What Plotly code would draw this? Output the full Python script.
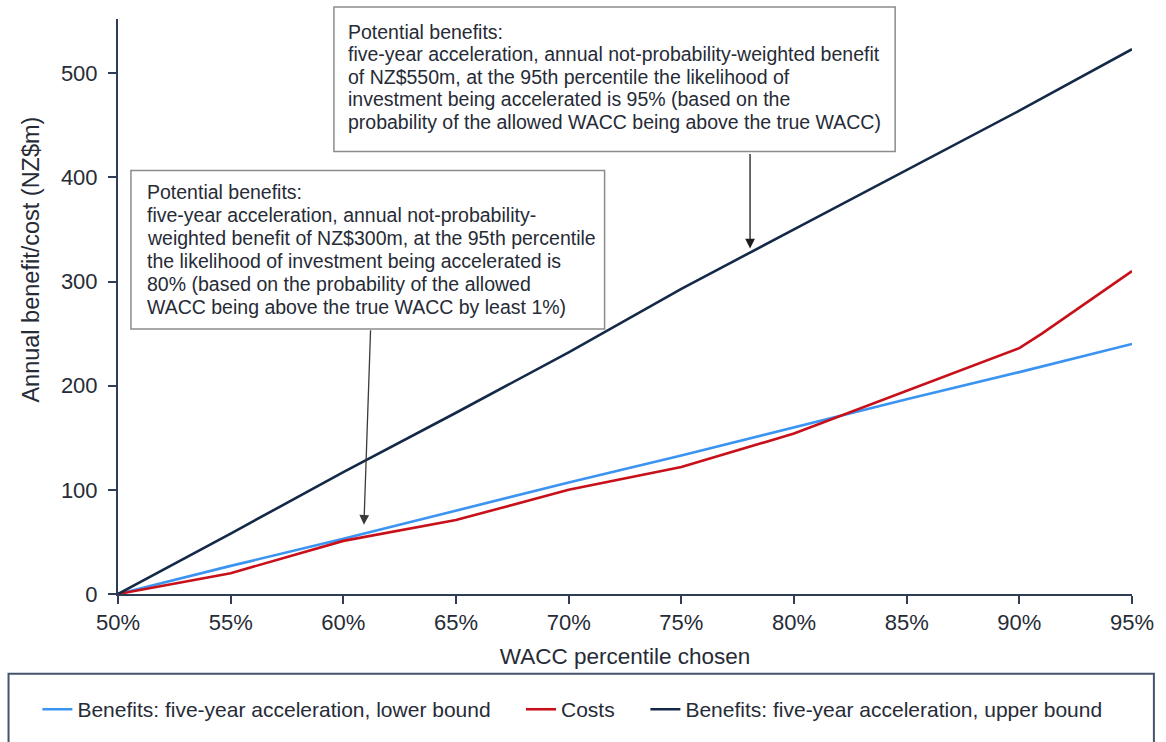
import numpy as np
import plotly.graph_objects as go

# WACC percentile (x) and annual benefit / cost in NZ$m (y)
pct = [50, 55, 60, 65, 70, 75, 80, 85, 90, 95]
lower_bound = [0, 27, 53, 80, 107, 133, 160, 187, 213, 240]
upper_bound = [0, 58, 117, 174, 232, 293, 350, 407, 464, 523]
cost_pct = [50, 55, 60, 65, 70, 75, 80, 85, 90, 91, 95]
costs = [0, 20, 51, 71, 100, 122, 154, 195, 236, 250, 310]

x_ticks = [50, 55, 60, 65, 70, 75, 80, 85, 90, 95]
y_ticks = [0, 100, 200, 300, 400, 500]

names = [
    "Benefits: five-year acceleration, lower bound",
    "Costs",
    "Benefits: five-year acceleration, upper bound",
]

upper_note = [
    "Potential benefits:",
    "five-year acceleration, annual not-probability-weighted benefit",
    "of NZ$550m, at the 95th percentile the likelihood of",
    "investment being accelerated is 95% (based on the",
    "probability of the allowed WACC being above the true WACC)",
]
lower_note = [
    "Potential benefits:",
    "five-year acceleration, annual not-probability-",
    "weighted benefit of NZ$300m, at the 95th percentile",
    "the likelihood of investment being accelerated is",
    "80% (based on the probability of the allowed",
    "WACC being above the true WACC by least 1%)",
]

FONT = "Liberation Sans, Arial, sans-serif"
TEXT = "#262b36"
AXIS = "#2e3d55"
BLUE = "#3b93f2"
RED = "#c8101a"
NAVY = "#142948"

W, H = 1166, 742
L, R, T, B = 118, 29, 19, 146


def fx(p):
    """Pixel column -> paper x."""
    return (p - L) / (W - L - R)


def fy(p):
    """Pixel row -> paper y."""
    return (H - B - p) / (H - T - B)


fig = go.Figure()
fig.add_trace(go.Scatter(x=pct, y=lower_bound, mode="lines", name=names[0],
                         line=dict(color=BLUE, width=2.6), legend="legend"))
fig.add_trace(go.Scatter(x=cost_pct, y=costs, mode="lines", name=names[1],
                         line=dict(color=RED, width=2.6), legend="legend2"))
fig.add_trace(go.Scatter(x=pct, y=upper_bound, mode="lines", name=names[2],
                         line=dict(color=NAVY, width=2.6), legend="legend3"))

annotations = []

# Note boxes: frame as shapes, text line by line
shapes = [
    dict(type="rect", xref="paper", yref="paper",
         x0=fx(335), x1=fx(899), y0=fy(7), y1=fy(152),
         line=dict(color="#8c8c8c", width=1.5), fillcolor="white", layer="above"),
    dict(type="rect", xref="paper", yref="paper",
         x0=fx(131), x1=fx(607), y0=fy(171), y1=fy(330),
         line=dict(color="#8c8c8c", width=1.5), fillcolor="white", layer="above"),
    # legend frame
    dict(type="rect", xref="paper", yref="paper",
         x0=fx(8), x1=fx(1159), y0=fy(676), y1=fy(760),
         line=dict(color="#45546c", width=2), fillcolor="rgba(0,0,0,0)"),
]

for i, line in enumerate(upper_note):
    annotations.append(dict(text=line, xref="paper", yref="paper",
                            x=fx(347), y=fy(32 + i * 22.5), xanchor="left",
                            yanchor="middle", showarrow=False,
                            font=dict(family=FONT, size=19.5, color=TEXT)))
for i, line in enumerate(lower_note):
    annotations.append(dict(text=line, xref="paper", yref="paper",
                            x=fx(145), y=fy(193 + i * 23), xanchor="left",
                            yanchor="middle", showarrow=False,
                            font=dict(family=FONT, size=19.5, color=TEXT)))

# Pointer arrows from the notes to the benefit lines
up_x, low_x = 78.05, 60.9
annotations.append(dict(text="", x=up_x, y=float(np.interp(up_x, pct, upper_bound)),
                        xref="x", yref="y", ax=0, ay=-100, showarrow=True,
                        arrowhead=2, arrowsize=1.5, arrowwidth=1.3,
                        arrowcolor="#1e1e1e", standoff=4))
annotations.append(dict(text="", x=low_x, y=float(np.interp(low_x, pct, lower_bound)),
                        xref="x", yref="y", ax=7, ay=-205, showarrow=True,
                        arrowhead=2, arrowsize=1.5, arrowwidth=1.3,
                        arrowcolor="#3a3a3a", standoff=9))

# Y axis title
annotations.append(dict(text="Annual benefit/cost (NZ$m)", xref="paper", yref="paper",
                        x=fx(31), y=fy(260), textangle=-90, showarrow=False,
                        xanchor="center", yanchor="middle",
                        font=dict(family=FONT, size=23.5, color=TEXT)))

legend_common = dict(orientation="h", xanchor="left", yanchor="middle",
                     bgcolor="rgba(0,0,0,0)", borderwidth=0, itemwidth=30,
                     font=dict(family=FONT, size=21, color=TEXT))

fig.update_layout(
    width=W, height=H,
    margin=dict(l=L, r=R, t=T, b=B),
    paper_bgcolor="white", plot_bgcolor="white",
    font=dict(family=FONT, color=TEXT),
    showlegend=True,
    legend=dict(x=fx(37), y=fy(712), **legend_common),
    legend2=dict(x=fx(523), y=fy(712), **legend_common),
    legend3=dict(x=fx(648), y=fy(712), **legend_common),
    xaxis=dict(range=[50, 95], tickvals=x_ticks, ticktext=[f"{v}%" for v in x_ticks],
               showline=True, linecolor=AXIS, linewidth=2, ticks="outside",
               ticklen=8, tickwidth=2, tickcolor=AXIS, showgrid=False, zeroline=False,
               tickfont=dict(family=FONT, size=22, color=TEXT),
               title=dict(text="WACC percentile chosen", standoff=14,
                          font=dict(family=FONT, size=22.5, color=TEXT))),
    yaxis=dict(range=[0, 552], tickvals=y_ticks, showline=True, linecolor=AXIS,
               linewidth=2, ticks="outside", ticklen=8, tickwidth=2, tickcolor=AXIS,
               showgrid=False, zeroline=False, ticklabelstandoff=6,
               tickfont=dict(family=FONT, size=22, color=TEXT)),
    annotations=annotations,
    shapes=shapes,
)

fig.write_html("out.html")
